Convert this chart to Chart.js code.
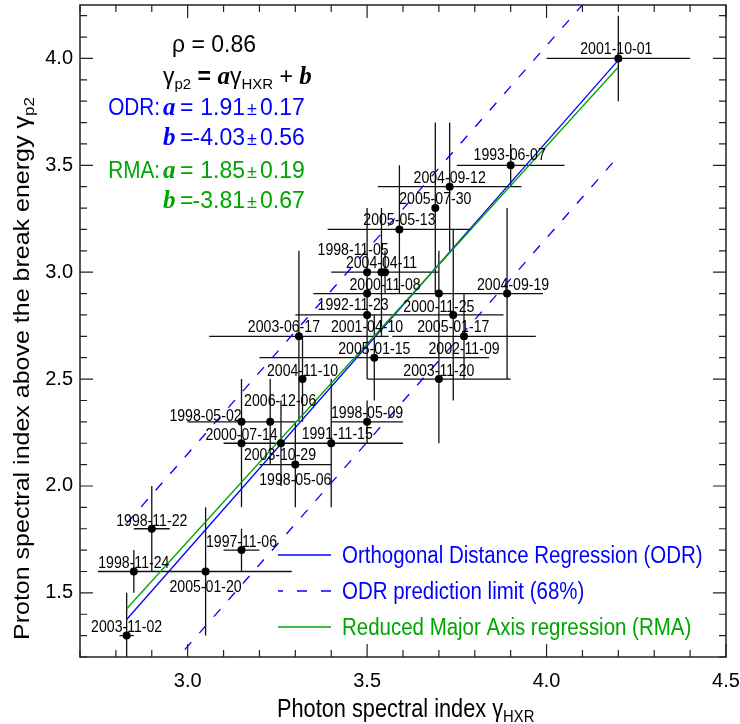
<!DOCTYPE html>
<html>
<head>
<meta charset="utf-8">
<title>Proton vs photon spectral index</title>
<script src="https://cdn.jsdelivr.net/npm/chart.js"></script>
<style>
    html, body { margin: 0; padding: 0; background: white; }
    canvas { display: block; }
</style>
</head>
<body>
<canvas id="indexChart" width="740" height="724"></canvas>
<script>
// events (date of the flare / SEP event)
const events = ['2001-10-01', '1993-06-07', '2004-09-12', '2005-07-30', '2005-05-13',
    '1998-11-05', '2004-04-11', '2000-11-08', '1992-11-23', '2000-11-25',
    '2004-09-19', '2001-04-10', '2005-01-17', '2003-06-17', '2002-11-09',
    '2005-01-15', '2003-11-20', '2004-11-10', '1998-05-02', '2006-12-06',
    '1998-05-09', '2000-07-14', '2003-10-29', '1991-11-15', '1998-05-06',
    '1998-11-22', '1998-11-24', '2005-01-20', '1997-11-06', '2003-11-02'];

// photon spectral index (HXR) and its error
const gammaHXR = [4.20, 3.90, 3.73, 3.69, 3.59, 3.50, 3.54, 3.55, 3.50, 3.70,
    3.89, 3.50, 3.74, 3.31, 3.77, 3.52, 3.70, 3.32, 3.15, 3.23,
    3.50, 3.15, 3.26, 3.40, 3.30, 2.90, 2.85, 3.05, 3.15, 2.83];
const gammaHXRErr = [0.20, 0.15, 0.20, 0.00, 0.20, 0.10, 0.10, 0.15, 0.15, 0.20,
    0.10, 0.20, 0.14, 0.25, 0.20, 0.32, 0.20, 0.00, 0.15, 0.05,
    0.10, 0.05, 0.14, 0.20, 0.10, 0.05, 0.10, 0.24, 0.05, 0.02];

// proton spectral index above the break energy and its error
const gammaP2 = [4.0, 3.5, 3.4, 3.3, 3.2, 3.0, 3.0, 3.0, 2.9, 2.9,
    2.9, 2.8, 2.8, 2.7, 2.7, 2.6, 2.5, 2.5, 2.3, 2.3,
    2.3, 2.2, 2.2, 2.2, 2.1, 1.8, 1.6, 1.6, 1.7, 1.3];
const gammaP2Err = [0.20, 0.10, 0.30, 0.40, 0.30, 0.30, 0.30, 0.10, 0.20, 0.20,
    0.40, 0.30, 0.40, 0.40, 0.20, 0.20, 0.30, 0.20, 0.20, 0.20,
    0.10, 0.30, 0.20, 0.30, 0.20, 0.20, 0.10, 0.30, 0.10, 0.20];

// where each date label sits relative to its point (px)
const labelDx = [-2, -1, 0, 0, 0, -14, 0, 0, -14, 0, 6, 0, 0, -15, 0,
    0, 0, 0, -36, 10, 0, 0, -1, 6, 0, 0, 0, 0, 0, 0];
const labelDy = [-11, -11, -10, -10, -11, -23, -10, 12, 10, 12, -10, 11, 11, -10, 12,
    -10, -9, -9, -7, -22, -10, -9, 11, -10, 14, -9, -10, 14, -9, -10];

// regression results: ODR, RMA
const fitNames = ['ODR', 'RMA'];
const fitSlope = [1.91, 1.85];
const fitSlopeErr = [0.17, 0.19];
const fitIntercept = [-4.03, -3.81];
const fitInterceptErr = [0.56, 0.67];
const predictionHalfWidth = 0.45;
const rho = 0.86;

// axes
const xRange = [2.7, 4.5];
const yRange = [1.2, 4.25];
const xTickValues = [3.0, 3.5, 4.0, 4.5];
const yTickValues = [1.5, 2.0, 2.5, 3.0, 3.5, 4.0];

const BLUE = 'rgb(0,0,255)';
const GREEN = 'rgb(0,165,0)';
const SANS = '"Liberation Sans", Arial, Helvetica, sans-serif';
const SERIF = '"Liberation Serif", "Times New Roman", serif';

// error bars as broken line segments
const hBars = [], vBars = [];
gammaHXR.forEach((x, i) => {
    const y = gammaP2[i];
    hBars.push({ x: x - gammaHXRErr[i], y }, { x: x + gammaHXRErr[i], y }, { x: null, y: null });
    vBars.push({ x, y: y - gammaP2Err[i] }, { x, y: y + gammaP2Err[i] }, { x: null, y: null });
});

const xLo = Math.min(...gammaHXR), xHi = Math.max(...gammaHXR);
const fitLine = (k, shift) => [xLo, xHi].map(x => ({ x, y: fitSlope[k] * x + fitIntercept[k] + shift }));

// draw text scaled by (sx, sy) around its anchor
function squeezed(ctx, str, x, y, sx, sy = 1) {
    ctx.save();
    ctx.translate(x, y);
    ctx.scale(sx, sy);
    ctx.fillText(str, 0, 0);
    ctx.restore();
}

// runs of differently styled text, left to right from x
function drawRuns(ctx, runs, x, y, sx, sy = 1) {
    let cx = x;
    ctx.textAlign = 'left';
    for (const r of runs) {
        ctx.font = r.font;
        squeezed(ctx, r.t, cx, y + (r.dy || 0) * sy, sx, sy);
        cx += ctx.measureText(r.t).width * sx;
    }
    return cx;
}

const sans = px => px + 'px ' + SANS;
const bi = px => 'bold italic ' + px + 'px ' + SERIF;

const overlay = {
    id: 'overlay',
    afterDatasetsDraw(chart) {
        const ctx = chart.ctx;
        const xs = chart.scales.x, ys = chart.scales.y;
        const a = chart.chartArea;
        ctx.save();

        // frame with inward ticks on all four sides
        ctx.strokeStyle = '#222';
        ctx.lineWidth = 1.5;
        ctx.strokeRect(a.left, a.top, a.right - a.left, a.bottom - a.top);
        ctx.lineWidth = 1.2;
        ctx.beginPath();
        for (let k = Math.ceil(xRange[0] * 10); k <= Math.floor(xRange[1] * 10); k++) {
            const v = k / 10;
            const len = (k % 5 === 0) ? 13 : 7;
            const px = xs.getPixelForValue(v);
            ctx.moveTo(px, a.bottom); ctx.lineTo(px, a.bottom - len);
            ctx.moveTo(px, a.top); ctx.lineTo(px, a.top + len);
        }
        for (let k = Math.ceil(yRange[0] * 10); k <= Math.floor(yRange[1] * 10); k++) {
            const v = k / 10;
            const len = (k % 5 === 0) ? 13 : 7;
            const py = ys.getPixelForValue(v);
            ctx.moveTo(a.left, py); ctx.lineTo(a.left + len, py);
            ctx.moveTo(a.right, py); ctx.lineTo(a.right - len, py);
        }
        ctx.stroke();

        // date labels
        ctx.fillStyle = '#000';
        ctx.font = sans(17);
        ctx.textAlign = 'center';
        ctx.textBaseline = 'alphabetic';
        events.forEach((d, i) => {
            const px = xs.getPixelForValue(gammaHXR[i]) + labelDx[i];
            const py = ys.getPixelForValue(gammaP2[i]) + labelDy[i] + 6.1;
            squeezed(ctx, d, px, py, 0.83);
        });

        // correlation and fit coefficients
        ctx.fillStyle = '#000';
        drawRuns(ctx, [{ t: 'ρ = ' + rho.toFixed(2), font: sans(23) }], 172, 52, 1);
        drawRuns(ctx, [
            { t: 'γ', font: sans(23) },
            { t: 'p2', font: sans(15), dy: 5 },
            { t: ' = ', font: 'bold ' + sans(23) },
            { t: 'a', font: bi(25) },
            { t: 'γ', font: sans(23) },
            { t: 'HXR', font: sans(15), dy: 5 },
            { t: ' + ', font: sans(23) },
            { t: 'b', font: bi(25) }
        ], 163, 84, 1);

        const rowY = [[115, 145], [178, 208]];
        [BLUE, GREEN].forEach((col, k) => {
            ctx.fillStyle = col;
            const yA = rowY[k][0], yB = rowY[k][1];
            ctx.font = sans(23);
            ctx.textAlign = 'right';
            squeezed(ctx, fitNames[k] + ':', 160, yA, 0.9);
            [[yA, 'a', fitSlope[k], fitSlopeErr[k]], [yB, 'b', fitIntercept[k], fitInterceptErr[k]]]
                .forEach(([y, name, val, err]) => {
                    ctx.textAlign = 'left';
                    ctx.font = bi(25);
                    ctx.fillText(name, 163, y);
                    ctx.font = sans(23);
                    ctx.fillText('=', 180, y);
                    ctx.textAlign = 'right';
                    ctx.fillText(val.toFixed(2), 245, y);
                    ctx.textAlign = 'left';
                    ctx.font = sans(18);
                    ctx.fillText('±', 247, y);
                    ctx.font = sans(23);
                    ctx.fillText(err.toFixed(2), 260, y);
                });
        });

        // legend
        const legend = [
            { text: 'Orthogonal Distance Regression (ODR)', color: BLUE, dash: [] },
            { text: 'ODR prediction limit (68%)', color: BLUE, dash: [10, 14] },
            { text: 'Reduced Major Axis regression (RMA)', color: GREEN, dash: [] }
        ];
        const legY = [555, 591, 627];
        legend.forEach((item, k) => {
            ctx.strokeStyle = item.color;
            ctx.lineWidth = 1.3;
            ctx.setLineDash(item.dash);
            ctx.lineDashOffset = 5;
            ctx.beginPath();
            ctx.moveTo(278, legY[k]);
            ctx.lineTo(331, legY[k]);
            ctx.stroke();
            ctx.setLineDash([]);
            ctx.fillStyle = item.color;
            ctx.font = sans(23);
            ctx.textAlign = 'left';
            squeezed(ctx, item.text, 342, legY[k] + 8, 0.89);
        });

        // axis titles
        ctx.fillStyle = '#000';
        drawRuns(ctx, [
            { t: 'Photon spectral index γ', font: sans(25) },
            { t: 'HXR', font: sans(17), dy: 5 }
        ], 277, 717, 0.87);

        ctx.save();
        ctx.translate(29, 640);
        ctx.rotate(-Math.PI / 2);
        drawRuns(ctx, [
            { t: 'Proton spectral index above the break energy γ', font: sans(25) },
            { t: 'p2', font: sans(17), dy: 6 }
        ], 0, 0, 1, 0.87);
        ctx.restore();

        ctx.restore();
    }
};

new Chart(document.getElementById('indexChart'), {
    type: 'scatter',
    data: {
        datasets: [
            {
                label: 'events',
                data: gammaHXR.map((x, i) => ({ x, y: gammaP2[i] })),
                pointRadius: 4,
                pointBackgroundColor: '#000',
                pointBorderWidth: 0
            },
            {
                label: 'RMA',
                data: fitLine(1, 0),
                showLine: true, pointRadius: 0,
                borderColor: GREEN, borderWidth: 1.3
            },
            {
                label: 'ODR',
                data: fitLine(0, 0),
                showLine: true, pointRadius: 0,
                borderColor: BLUE, borderWidth: 1.3
            },
            {
                label: 'ODR upper limit',
                data: fitLine(0, predictionHalfWidth),
                showLine: true, pointRadius: 0,
                borderColor: BLUE, borderWidth: 1.3, borderDash: [10, 12]
            },
            {
                label: 'ODR lower limit',
                data: fitLine(0, -predictionHalfWidth),
                showLine: true, pointRadius: 0,
                borderColor: BLUE, borderWidth: 1.3, borderDash: [10, 12]
            },
            {
                label: 'x errors',
                data: hBars,
                showLine: true, spanGaps: false, pointRadius: 0,
                borderColor: '#111', borderWidth: 1.3
            },
            {
                label: 'y errors',
                data: vBars,
                showLine: true, spanGaps: false, pointRadius: 0,
                borderColor: '#111', borderWidth: 1.3
            }
        ]
    },
    options: {
        responsive: false,
        animation: false,
        devicePixelRatio: 1,
        layout: { padding: { top: 5, right: 14, left: 0, bottom: 0 } },
        plugins: {
            legend: { display: false },
            tooltip: { enabled: false }
        },
        scales: {
            x: {
                type: 'linear',
                min: xRange[0], max: xRange[1],
                grid: { display: false, drawTicks: false },
                border: { display: false },
                afterBuildTicks: s => { s.ticks = xTickValues.map(v => ({ value: v })); },
                afterFit: s => { s.height = 67; s.paddingLeft = 0; s.paddingRight = 0; },
                ticks: {
                    padding: 12,
                    color: '#000',
                    font: { family: SANS, size: 20 },
                    autoSkip: false,
                    maxRotation: 0,
                    callback: v => Number(v).toFixed(1)
                }
            },
            y: {
                type: 'linear',
                min: yRange[0], max: yRange[1],
                grid: { display: false, drawTicks: false },
                border: { display: false },
                afterBuildTicks: s => { s.ticks = yTickValues.map(v => ({ value: v })); },
                afterFit: s => { s.width = 80; s.paddingTop = 0; s.paddingBottom = 0; },
                ticks: {
                    padding: 7,
                    color: '#000',
                    font: { family: SANS, size: 20 },
                    autoSkip: false,
                    callback: v => Number(v).toFixed(1)
                }
            }
        }
    },
    plugins: [overlay]
});
</script>
</body>
</html>
